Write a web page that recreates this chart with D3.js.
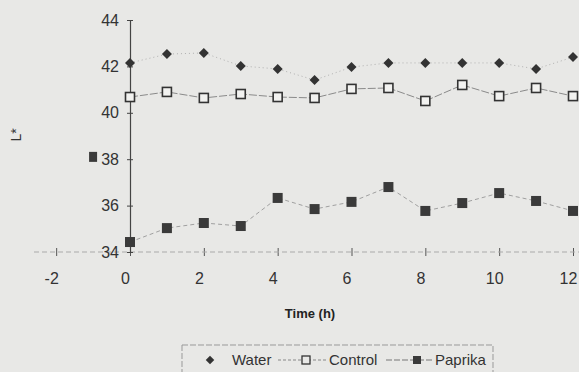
<!DOCTYPE html>
<html><head><meta charset="utf-8">
<script src="https://cdn.jsdelivr.net/npm/d3@7"></script>
<style>
html,body{margin:0;padding:0;background:#e8e8e6;}
svg{display:block;font-family:"Liberation Sans",Arial,sans-serif;}
</style></head>
<body>
<svg id="c" width="579" height="372"></svg>
<script>
const hours = [0,1,2,3,4,5,6,7,8,9,10,11,12];
const water   = [42.15,42.53,42.58,42.02,41.89,41.41,41.97,42.15,42.15,42.15,42.15,41.89,42.40];
const control = [40.68,40.90,40.64,40.81,40.68,40.64,41.03,41.07,40.51,41.20,40.72,41.07,40.72];
const paprika = [34.43,35.03,35.25,35.12,36.33,35.85,36.16,36.80,35.77,36.11,36.54,36.20,35.77];
const paprikaExtraT = [-1];
const paprikaExtraV = [38.1];
const xTicks = [-2,0,2,4,6,8,10,12];
const yTicks = [34,36,38,40,42,44];
const legendLabels = ["Water","Control","Paprika"];

const svg = d3.select("#c");
const x = d3.scaleLinear().domain([0,12]).range([130,573]);
const y = d3.scaleLinear().domain([34,44]).range([252,20]);
const ink = "#333";

// x axis
const xa = svg.append("g").attr("transform",`translate(0,${y(34)})`)
  .call(d3.axisBottom(x).tickValues(xTicks).tickSize(0).tickPadding(0).tickFormat(d=>d<0?"-"+Math.abs(d):d));
xa.select(".domain").remove();
xa.append("line").attr("x1",x(-2.6)).attr("x2",x(12.2)).attr("stroke","#aaa")
  .attr("stroke-width",1).attr("stroke-dasharray","5,3");
xa.selectAll(".tick line").attr("y1",-4).attr("y2",4).attr("stroke","#555");
xa.selectAll(".tick text").attr("fill",ink).attr("font-size",16).attr("dy","1.2em").attr("dx",-5).attr("y",13);

// y axis
const ya = svg.append("g").attr("transform",`translate(${x(0)},0)`)
  .call(d3.axisLeft(y).tickValues(yTicks).tickSize(0).tickPadding(11));
ya.select(".domain").attr("stroke","#444").attr("stroke-width",1.2);
ya.selectAll(".tick line").attr("x1",-3).attr("x2",3).attr("stroke","#444");
ya.selectAll(".tick text").attr("fill",ink).attr("font-size",16);

// axis titles
svg.append("text").attr("transform","translate(21,135) rotate(-90)").attr("text-anchor","middle")
  .attr("font-size",14).attr("fill",ink).text("L*");
svg.append("text").attr("x",310).attr("y",318).attr("text-anchor","middle")
  .attr("font-size",13).attr("font-weight","bold").attr("fill","#222").text("Time (h)");

const line = (vals)=>d3.line().x((d,i)=>x(hours[i])).y(d=>y(d))(vals);

svg.append("path").attr("d",line(water)).attr("fill","none").attr("stroke","#b0b0b0").attr("stroke-width",1).attr("stroke-dasharray","1,3");
svg.append("path").attr("d",line(control)).attr("fill","none").attr("stroke","#8a8a8a").attr("stroke-width",1).attr("stroke-dasharray","8,2");
svg.append("path").attr("d",line(paprika)).attr("fill","none").attr("stroke","#a0a0a0").attr("stroke-width",1).attr("stroke-dasharray","4,3");

const diamond = d3.symbol().type(d3.symbolSquare).size(50);
svg.selectAll(".w").data(water).join("path")
  .attr("d",diamond).attr("transform",(d,i)=>`translate(${x(hours[i])},${y(d)}) rotate(45)`).attr("fill",ink);
svg.selectAll(".c").data(control).join("rect")
  .attr("x",(d,i)=>x(hours[i])-4.5).attr("y",d=>y(d)-4.5).attr("width",9).attr("height",9)
  .attr("fill","#f2f2f0").attr("stroke",ink).attr("stroke-width",1.6);
svg.selectAll(".p").data(paprika).join("rect")
  .attr("x",(d,i)=>x(hours[i])-5).attr("y",d=>y(d)-5).attr("width",10).attr("height",10).attr("fill","#3a3a3a");
svg.selectAll(".pe").data(paprikaExtraV).join("rect")
  .attr("x",(d,i)=>x(paprikaExtraT[i])-4).attr("y",d=>y(d)-5).attr("width",8).attr("height",10).attr("fill","#3a3a3a");

// legend
const lg = svg.append("g");
lg.append("rect").attr("x",182).attr("y",345).attr("width",311).attr("height",40)
  .attr("fill","none").attr("stroke","#999").attr("stroke-dasharray","6,2");
lg.append("path").attr("d",d3.symbol().type(d3.symbolSquare).size(36)).attr("transform","translate(210,360) rotate(45)").attr("fill",ink);
lg.append("text").attr("x",232).attr("y",365).attr("font-size",15).attr("fill",ink).text(legendLabels[0]);
lg.append("line").attr("x1",278).attr("x2",326).attr("y1",360).attr("y2",360).attr("stroke","#888").attr("stroke-dasharray","3,2");
lg.append("rect").attr("x",302).attr("y",356).attr("width",8).attr("height",8).attr("fill","#e8e8e6").attr("stroke",ink).attr("stroke-width",1.3);
lg.append("text").attr("x",329).attr("y",365).attr("font-size",15).attr("fill",ink).text(legendLabels[1]);
lg.append("line").attr("x1",386).attr("x2",432).attr("y1",360).attr("y2",360).attr("stroke","#777").attr("stroke-dasharray","6,2");
lg.append("rect").attr("x",413).attr("y",356).attr("width",8).attr("height",8).attr("fill","#3a3a3a");
lg.append("text").attr("x",435).attr("y",365).attr("font-size",15).attr("fill",ink).text(legendLabels[2]);
</script>
</body></html>
